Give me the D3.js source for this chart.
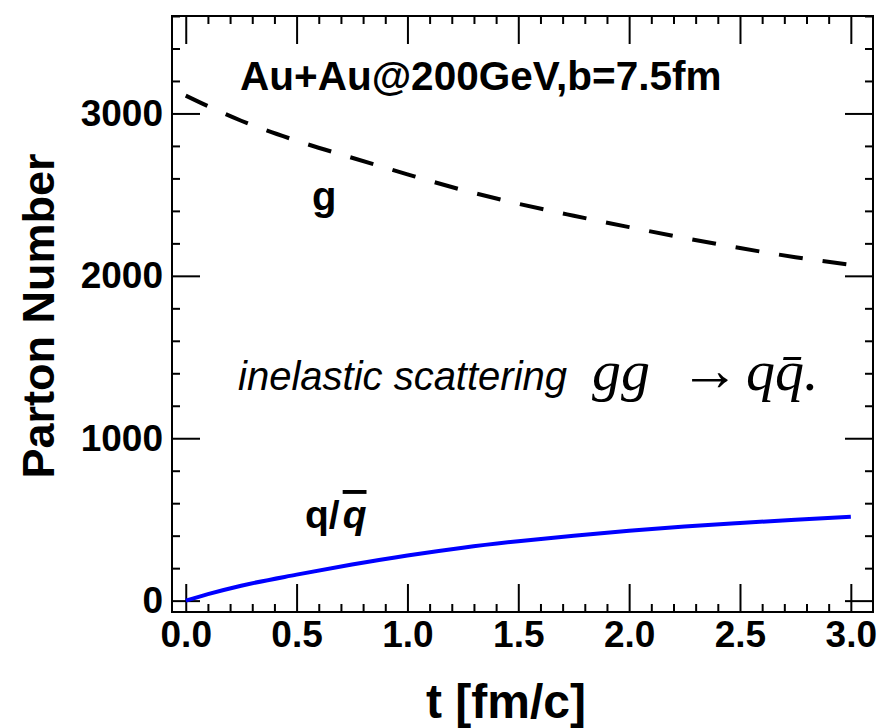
<!DOCTYPE html>
<meta charset="utf-8">
<style>
body{ margin:0; background:#fff; }
svg text{ font-family: "Liberation Sans", Arial, sans-serif; }
.axis path{ stroke:none; }
.axis line{ stroke:#000; stroke-width:2; }
.axis text{ font-size:37px; font-weight:bold; fill:#000; }
</style>
<body>
<script src="https://d3js.org/d3.v7.min.js"></script>
<script>
// values
const tValues = [0, 0.1, 0.25, 0.5, 0.75, 1.0, 1.25, 1.5, 1.75, 2.0, 2.25, 2.5, 2.75, 3.0];
const gluonN  = [3110, 3045, 2955, 2832, 2727, 2625, 2528, 2444, 2370, 2300, 2233, 2171, 2115, 2068];
const quarkN  = [0, 40, 92, 160, 222, 278, 326, 366, 400, 430, 456, 478, 498, 517];
const xMajor = [0, 0.5, 1.0, 1.5, 2.0, 2.5, 3.0];
const yMajor = [0, 1000, 2000, 3000];

const width = 880, height = 728;
const pLeft = 172, pRight = 873, pTop = 16, pBottom = 612;

const svg = d3.select("body").append("svg")
    .attr("width", width)
    .attr("height", height);

const x = d3.scaleLinear().domain([-0.062, 3.1]).range([pLeft, pRight]);
const y = d3.scaleLinear().domain([-70, 3600]).range([pBottom, pTop]);

const xMinor = d3.range(0, 31).map(d => d / 10).filter(d => !xMajor.includes(d));
const yMinor = d3.range(0, 3601, 200).filter(d => !yMajor.includes(d));

// bottom / top axes
svg.append("g").attr("class", "axis")
    .attr("transform", `translate(0,${pBottom})`)
    .call(d3.axisBottom(x).tickValues(xMajor).tickFormat(d3.format(".1f"))
        .tickSizeInner(-28).tickSizeOuter(0).tickPadding(9));
svg.append("g").attr("class", "axis")
    .attr("transform", `translate(0,${pBottom})`)
    .call(d3.axisBottom(x).tickValues(xMinor).tickFormat("").tickSizeInner(-8).tickSizeOuter(0));
svg.append("g").attr("class", "axis")
    .attr("transform", `translate(0,${pTop})`)
    .call(d3.axisTop(x).tickValues(xMajor).tickFormat("").tickSizeInner(-28).tickSizeOuter(0));
svg.append("g").attr("class", "axis")
    .attr("transform", `translate(0,${pTop})`)
    .call(d3.axisTop(x).tickValues(xMinor).tickFormat("").tickSizeInner(-8).tickSizeOuter(0));

// left / right axes
svg.append("g").attr("class", "axis")
    .attr("transform", `translate(${pLeft},0)`)
    .call(d3.axisLeft(y).tickValues(yMajor).tickFormat(d3.format("d"))
        .tickSizeInner(-28).tickSizeOuter(0).tickPadding(9));
svg.append("g").attr("class", "axis")
    .attr("transform", `translate(${pLeft},0)`)
    .call(d3.axisLeft(y).tickValues(yMinor).tickFormat("").tickSizeInner(-8).tickSizeOuter(0));
svg.append("g").attr("class", "axis")
    .attr("transform", `translate(${pRight},0)`)
    .call(d3.axisRight(y).tickValues(yMajor).tickFormat("").tickSizeInner(-28).tickSizeOuter(0));
svg.append("g").attr("class", "axis")
    .attr("transform", `translate(${pRight},0)`)
    .call(d3.axisRight(y).tickValues(yMinor).tickFormat("").tickSizeInner(-8).tickSizeOuter(0));

svg.append("rect")
    .attr("x", pLeft).attr("y", pTop)
    .attr("width", pRight - pLeft).attr("height", pBottom - pTop)
    .attr("fill", "none").attr("stroke", "#000").attr("stroke-width", 2);

// curves
const line = d3.line().curve(d3.curveMonotoneX)
    .x(d => x(d[0])).y(d => y(d[1]));

svg.append("path")
    .datum(tValues.map((t, i) => [t, gluonN[i]]))
    .attr("d", line)
    .attr("fill", "none").attr("stroke", "#000")
    .attr("stroke-width", 4).attr("stroke-dasharray", "24,20");

svg.append("path")
    .datum(tValues.map((t, i) => [t, quarkN[i]]))
    .attr("d", line)
    .attr("fill", "none").attr("stroke", "#0000ff")
    .attr("stroke-width", 4);

// titles
svg.append("text")
    .attr("x", 506).attr("y", 718)
    .attr("text-anchor", "middle")
    .style("font-size", "48px").style("font-weight", "bold")
    .text("t [fm/c]");

svg.append("text")
    .attr("transform", `translate(54,316) rotate(-90)`)
    .attr("text-anchor", "middle")
    .style("font-size", "45px").style("font-weight", "bold")
    .text("Parton Number");

// annotations
svg.append("text")
    .attr("x", 240).attr("y", 90)
    .style("font-size", "40.5px").style("font-weight", "bold")
    .text("Au+Au@200GeV,b=7.5fm");

svg.append("text")
    .attr("x", 312).attr("y", 210)
    .style("font-size", "40px").style("font-weight", "bold")
    .text("g");

const ql = svg.append("text")
    .attr("x", 305).attr("y", 528)
    .style("font-size", "39px").style("font-weight", "bold");
ql.append("tspan").text("q/");
ql.append("tspan").attr("dx", 3).style("font-style", "italic")
    .style("text-decoration", "overline").text("q");

svg.append("text")
    .attr("x", 238).attr("y", 390)
    .style("font-size", "40px").style("font-style", "italic")
    .text("inelastic scattering");

const serif = "'Liberation Serif', 'Times New Roman', serif";
const eq = svg.append("text")
    .attr("y", 390)
    .style("font-family", serif).style("font-style", "italic");
eq.append("tspan").attr("x", 592).style("font-size", "58px").text("gg");
eq.append("tspan").attr("x", 680).style("font-size", "60px").style("font-style", "normal").text("\u2192");
eq.append("tspan").attr("x", 746).style("font-size", "58px").text("q\u0071\u0304.");
</script>
</body>
